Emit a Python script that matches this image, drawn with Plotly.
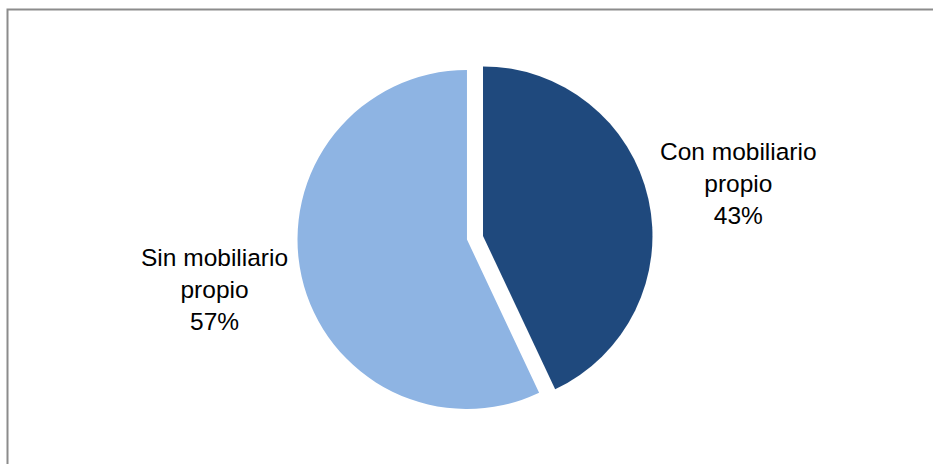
import plotly.graph_objects as go

# Share of sites by furniture ownership
labels = ["Con mobiliario propio", "Sin mobiliario propio"]
label_lines = [["Con mobiliario", "propio"], ["Sin mobiliario", "propio"]]
values = [43, 57]
colors = ["#1F497D", "#8EB4E3"]
pulls = [0.097, 0.0]

W, H = 933, 464

fig = go.Figure(
    go.Pie(
        labels=labels,
        values=values,
        sort=False,
        direction="clockwise",
        rotation=0,
        pull=pulls,
        marker=dict(colors=colors, line=dict(width=0)),
        textinfo="none",
        hoverinfo="label+percent",
        showlegend=False,
        domain=dict(x=[0.2505, 0.7505], y=[0.0832, 0.8845]),
    )
)

# Outside data labels built from the values
total = sum(values)
label_pos = [(0.792, 0.6035), (0.2294, 0.376)]
for lines, v, (lx, ly) in zip(label_lines, values, label_pos):
    pct = round(100 * v / total)
    fig.add_annotation(
        x=lx, y=ly, xref="paper", yref="paper",
        text="<br>".join(lines + [f"{pct}%"]),
        showarrow=False, xanchor="center", yanchor="middle", align="center",
        font=dict(family="Liberation Sans, Arial, sans-serif", size=24.5, color="#000000"),
    )

# Chart frame
fig.add_shape(
    type="rect", xref="paper", yref="paper",
    x0=7.5 / W, x1=1.05, y0=-0.05, y1=1 - 9.5 / H,
    line=dict(color="#8C8C8C", width=2), fillcolor="rgba(0,0,0,0)",
)

fig.update_layout(
    width=W, height=H,
    margin=dict(l=0, r=0, t=0, b=0),
    paper_bgcolor="#FFFFFF", plot_bgcolor="#FFFFFF",
)

fig.write_html("out.html")
